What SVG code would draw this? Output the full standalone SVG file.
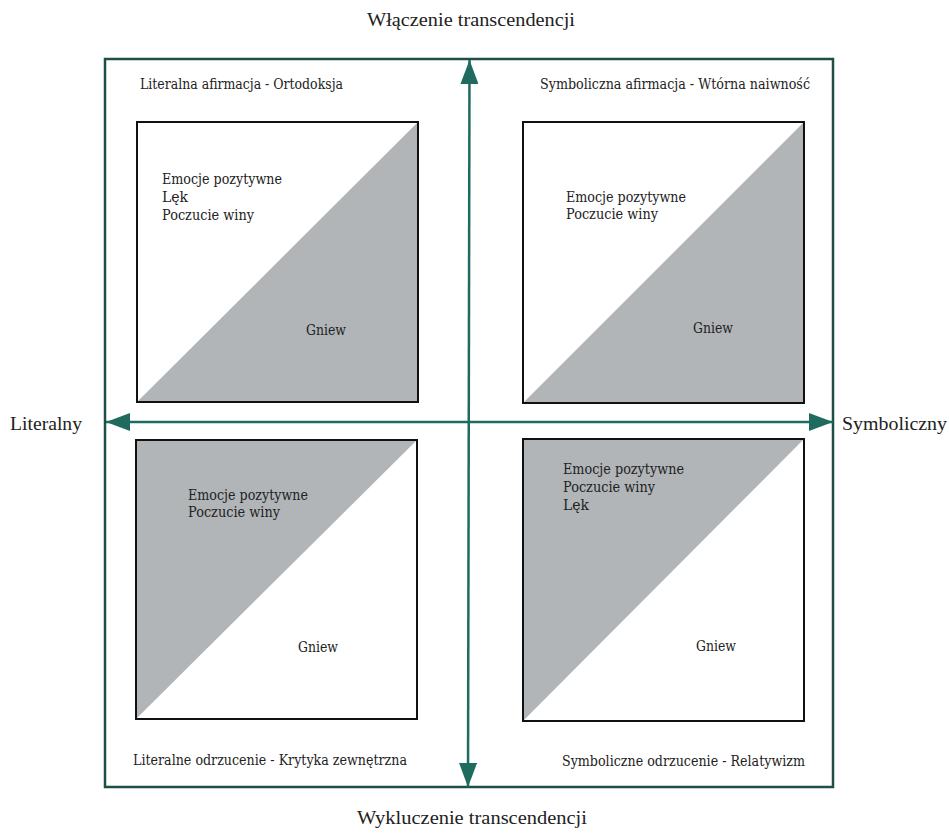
<svg xmlns="http://www.w3.org/2000/svg" width="949" height="833" viewBox="0 0 949 833">
<style>
.frame{fill:none;stroke:#1d4f47;stroke-width:2.5}
.box{fill:#ffffff;stroke:#111111;stroke-width:2}
.tri{fill:#b1b5b8}
.axis{stroke:#1f6b5f;stroke-width:2.5;fill:none}
.lbl{font-family:"DejaVu Serif","Liberation Serif",serif;font-size:14px;fill:#222}
.ax{font-family:"Liberation Serif","DejaVu Serif",serif;font-size:18px;fill:#222}
</style>
<defs>
<marker id="ah" viewBox="0 0 24 18" refX="24" refY="9" markerWidth="24" markerHeight="18" markerUnits="userSpaceOnUse" orient="auto-start-reverse">
<path d="M0,0 L24,9 L0,18 Z" fill="#1f6b5f"/>
</marker>
</defs>
<rect width="949" height="833" fill="#ffffff"/>
<rect class="frame" x="105" y="59" width="728" height="728"/>

<g id="q-top-left">
<rect class="box" x="137" y="122" width="281" height="280"/>
<polygon class="tri" points="138,401 417,123 417,401"/>
<rect x="137" y="122" width="281" height="280" fill="none" stroke="#111" stroke-width="2"/>
<text class="lbl" x="140" y="89" textLength="203" lengthAdjust="spacingAndGlyphs">Literalna afirmacja - Ortodoksja</text>
<text class="lbl" x="162" y="184" textLength="120" lengthAdjust="spacingAndGlyphs">Emocje pozytywne</text>
<text class="lbl" x="162" y="202">Lęk</text>
<text class="lbl" x="162" y="220" textLength="92" lengthAdjust="spacingAndGlyphs">Poczucie winy</text>
<text class="lbl" x="306" y="335" textLength="40" lengthAdjust="spacingAndGlyphs">Gniew</text>
</g>

<g id="q-top-right">
<rect class="box" x="523" y="122" width="281" height="281"/>
<polygon class="tri" points="524,402 803,123 803,402"/>
<rect x="523" y="122" width="281" height="281" fill="none" stroke="#111" stroke-width="2"/>
<text class="lbl" x="540" y="89" textLength="270" lengthAdjust="spacingAndGlyphs">Symboliczna afirmacja - Wtórna naiwność</text>
<text class="lbl" x="566" y="202" textLength="120" lengthAdjust="spacingAndGlyphs">Emocje pozytywne</text>
<text class="lbl" x="566" y="219" textLength="92" lengthAdjust="spacingAndGlyphs">Poczucie winy</text>
<text class="lbl" x="693" y="333" textLength="40" lengthAdjust="spacingAndGlyphs">Gniew</text>
</g>

<g id="q-bottom-left">
<rect class="box" x="136" y="440" width="281" height="279"/>
<polygon class="tri" points="137,441 416,441 137,718"/>
<rect x="136" y="440" width="281" height="279" fill="none" stroke="#111" stroke-width="2"/>
<text class="lbl" x="188" y="500" textLength="120" lengthAdjust="spacingAndGlyphs">Emocje pozytywne</text>
<text class="lbl" x="188" y="517" textLength="92" lengthAdjust="spacingAndGlyphs">Poczucie winy</text>
<text class="lbl" x="298" y="652" textLength="40" lengthAdjust="spacingAndGlyphs">Gniew</text>
<text class="lbl" x="133" y="765" textLength="274" lengthAdjust="spacingAndGlyphs">Literalne odrzucenie - Krytyka zewnętrzna</text>
</g>

<g id="q-bottom-right">
<rect class="box" x="523" y="439" width="281" height="282"/>
<polygon class="tri" points="524,440 803,440 524,720"/>
<rect x="523" y="439" width="281" height="282" fill="none" stroke="#111" stroke-width="2"/>
<text class="lbl" x="563" y="474" textLength="121" lengthAdjust="spacingAndGlyphs">Emocje pozytywne</text>
<text class="lbl" x="563" y="492" textLength="92" lengthAdjust="spacingAndGlyphs">Poczucie winy</text>
<text class="lbl" x="563" y="510">Lęk</text>
<text class="lbl" x="696" y="651" textLength="40" lengthAdjust="spacingAndGlyphs">Gniew</text>
<text class="lbl" x="562" y="766" textLength="243" lengthAdjust="spacingAndGlyphs">Symboliczne odrzucenie - Relatywizm</text>
</g>

<g id="connectors">
<line class="axis" x1="106" y1="422" x2="833" y2="422" marker-start="url(#ah)" marker-end="url(#ah)"/>
<line class="axis" x1="469.5" y1="60" x2="468" y2="787" marker-start="url(#ah)" marker-end="url(#ah)"/>
</g>

<g id="axis-labels">
<text class="ax" x="367" y="26" textLength="208" lengthAdjust="spacingAndGlyphs">Włączenie transcendencji</text>
<text class="ax" x="357" y="824" textLength="230" lengthAdjust="spacingAndGlyphs">Wykluczenie transcendencji</text>
<text class="ax" x="10" y="430" textLength="72" lengthAdjust="spacingAndGlyphs">Literalny</text>
<text class="ax" x="842" y="430" textLength="105" lengthAdjust="spacingAndGlyphs">Symboliczny</text>
</g>
</svg>
